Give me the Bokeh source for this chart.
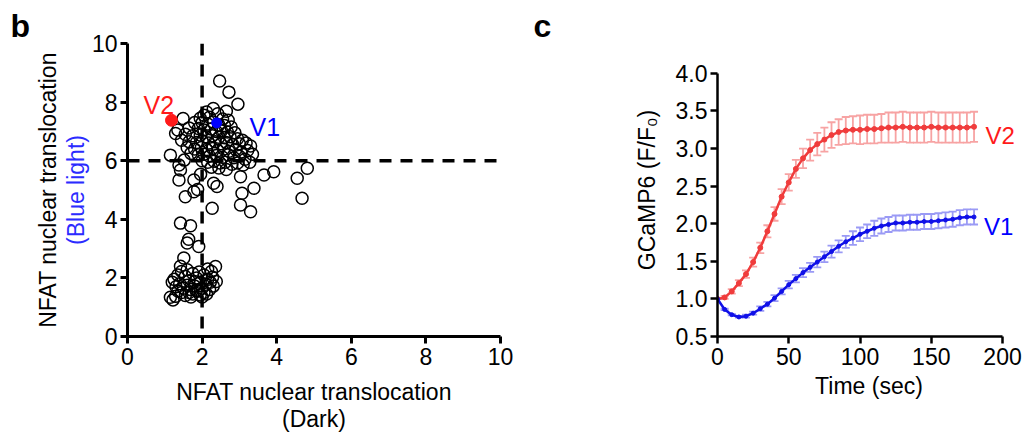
from bokeh.plotting import figure
from bokeh.layouts import row
from bokeh.models import (Range1d, FixedTicker, NumeralTickFormatter, Span, Label, Whisker, TeeHead,
                          ColumnDataSource, LinearAxis)
from bokeh.embed import file_html
from bokeh.resources import INLINE

FONT = "Liberation Sans"

# ---- Panel b: NFAT nuclear translocation (Dark vs Blue light) ----
dark_x = [
    2.47, 2.72, 2.96, 2.65, 2.30, 2.12, 2.42, 1.49, 1.95, 2.05, 2.20, 2.55, 2.70, 1.80, 2.00, 2.15, 2.30, 2.45, 2.60, 2.78,
    1.65, 1.90, 2.05, 2.25, 2.38, 2.52, 2.68, 2.88, 1.35, 1.29, 1.55, 1.75, 1.95, 2.10, 2.28, 2.45, 2.60, 2.75, 2.95, 3.08,
    1.45, 1.65, 1.85, 2.00, 2.18, 2.35, 2.50, 2.65, 2.82, 3.00, 3.18, 3.30, 1.60, 1.80, 1.98, 2.12, 2.28, 2.42, 2.58, 2.72,
    2.90, 3.05, 3.22, 3.35, 1.15, 1.70, 1.90, 2.05, 2.20, 2.38, 2.55, 2.70, 2.85, 3.00, 3.15, 1.38, 1.52, 2.00, 2.15, 2.32,
    2.48, 2.62, 2.80, 2.95, 3.10, 3.28, 2.25, 2.45, 2.65, 1.42, 1.96,
    1.38, 1.78, 1.55, 1.78, 1.88, 2.31, 2.40, 3.03, 3.66, 3.92, 3.07, 3.39, 4.55, 4.82, 4.68, 3.03, 3.30, 2.27, 1.42, 1.69,
    1.64, 1.60, 1.91, 1.51,
    2.36, 2.25, 1.15, 1.29, 1.22, 1.25, 1.35, 1.45, 1.55, 1.65, 1.75, 1.85, 1.95, 2.05, 2.15, 2.28, 2.38, 1.30, 1.40, 1.50,
    1.60, 1.70, 1.80, 1.90, 2.00, 2.10, 2.20, 1.45, 1.55, 1.65, 1.75, 1.85, 1.95, 2.05, 1.20, 1.35, 2.30, 1.60, 1.92, 2.15,
    1.42, 2.00, 1.70, 2.12, 1.80, 2.22,
]
blue_y = [
    8.72, 8.34, 7.93, 7.69, 7.78, 7.66, 7.60, 7.44, 7.45, 7.55, 7.48, 7.42, 7.38, 7.30, 7.30, 7.25, 7.32, 7.22, 7.20, 7.15,
    7.12, 7.10, 7.05, 7.08, 7.00, 7.02, 6.98, 6.95, 7.05, 6.93, 6.90, 6.85, 6.88, 6.82, 6.85, 6.80, 6.78, 6.82, 6.75, 6.70,
    6.70, 6.65, 6.62, 6.68, 6.60, 6.65, 6.58, 6.62, 6.55, 6.58, 6.60, 6.50, 6.45, 6.40, 6.45, 6.38, 6.42, 6.35, 6.40, 6.32,
    6.38, 6.30, 6.35, 6.22, 6.19, 6.25, 6.20, 6.22, 6.15, 6.18, 6.12, 6.20, 6.10, 6.15, 6.05, 5.85, 6.02, 6.00, 5.95, 5.98,
    5.92, 5.95, 5.88, 5.92, 5.85, 5.95, 5.78, 5.75, 5.70, 5.68, 5.54,
    5.34, 5.34, 4.77, 4.94, 5.02, 5.23, 5.12, 5.45, 5.51, 5.62, 4.89, 5.06, 5.40, 5.74, 4.72, 4.49, 4.26, 4.38, 3.87, 3.78,
    3.32, 3.19, 3.07, 2.68,
    2.39, 2.22, 1.34, 1.37, 1.25, 1.95, 2.10, 2.22, 2.05, 1.90, 2.15, 2.00, 1.85, 2.10, 1.95, 2.02, 1.88, 1.70, 1.80, 1.65,
    1.75, 1.60, 1.72, 1.55, 1.65, 1.78, 1.60, 1.50, 1.40, 1.50, 1.45, 1.58, 1.42, 1.50, 1.85, 1.55, 1.72, 2.28, 2.20, 2.30,
    2.40, 1.35, 1.35, 1.45, 1.88, 1.85,
]
v1_point = (2.39, 7.29)
v2_point = (1.18, 7.38)
dark_threshold = 2
blue_threshold = 6
scatter_ticks = [0, 2, 4, 6, 8, 10]

# ---- Panel c: GCaMP6 time course ----
time_s = list(range(0, 185, 5))
v2_mean = [1.00, 1.02, 1.10, 1.21, 1.33, 1.49, 1.68, 1.90, 2.13, 2.36, 2.55, 2.73, 2.87, 2.98, 3.06, 3.12, 3.18, 3.22,
           3.24, 3.25, 3.25, 3.26, 3.26, 3.27, 3.28, 3.28, 3.29, 3.28, 3.28, 3.28, 3.29, 3.28, 3.28, 3.28, 3.28, 3.28, 3.29]
v2_err = [0.00, 0.02, 0.03, 0.04, 0.05, 0.06, 0.07, 0.08, 0.09, 0.10, 0.11, 0.12, 0.13, 0.14, 0.15, 0.16, 0.17, 0.17,
          0.18, 0.18, 0.19, 0.19, 0.19, 0.19, 0.20, 0.20, 0.20, 0.20, 0.20, 0.20, 0.20, 0.20, 0.20, 0.20, 0.20, 0.20, 0.20]
v1_mean = [1.00, 0.86, 0.79, 0.76, 0.77, 0.81, 0.87, 0.93, 1.01, 1.10, 1.19, 1.27, 1.35, 1.42, 1.49, 1.56, 1.63, 1.70,
           1.76, 1.81, 1.86, 1.90, 1.94, 1.97, 1.99, 2.01, 2.01, 2.02, 2.02, 2.03, 2.03, 2.04, 2.05, 2.06, 2.08, 2.09, 2.09]
v1_err = [0.00, 0.01, 0.01, 0.01, 0.02, 0.02, 0.03, 0.03, 0.04, 0.04, 0.05, 0.05, 0.06, 0.06, 0.07, 0.07, 0.08, 0.08,
          0.08, 0.09, 0.09, 0.09, 0.10, 0.10, 0.10, 0.10, 0.10, 0.10, 0.10, 0.10, 0.10, 0.10, 0.10, 0.10, 0.10, 0.10, 0.10]
time_ticks = [0, 50, 100, 150, 200]
ratio_ticks = [0.5, 1.0, 1.5, 2.0, 2.5, 3.0, 3.5, 4.0]

RED = "#f03c3c"
RED_ERR = "#f7a3a3"
BLUE = "#1010e8"
BLUE_ERR = "#9a9af5"
TICK_FS = "23px"
LABEL_FS = "23px"


def style_axes(p, lw):
    for ax in (p.xaxis[0], p.yaxis[0]):
        ax.axis_line_width = lw
        ax.axis_line_color = "black"
        ax.major_tick_line_width = lw
        ax.major_tick_line_color = "black"
        ax.major_tick_out = 7
        ax.major_tick_in = 0
        ax.minor_tick_line_color = None
        ax.major_label_text_font = FONT
        ax.major_label_text_font_size = TICK_FS
        ax.major_label_text_color = "black"
        ax.axis_label_text_font = FONT
        ax.axis_label_text_font_size = LABEL_FS
        ax.axis_label_text_font_style = "normal"
        ax.axis_label_text_color = "black"
    p.xaxis[0].major_label_standoff = 4
    p.yaxis[0].major_label_standoff = 3
    p.xgrid.grid_line_color = None
    p.ygrid.grid_line_color = None
    p.outline_line_color = None
    p.background_fill_color = "white"
    p.border_fill_color = "white"


def label_axis(text, color="black", standoff=0):
    ax = LinearAxis(ticker=FixedTicker(ticks=[]), axis_label=text)
    ax.axis_line_color = None
    ax.major_tick_line_color = None
    ax.minor_tick_line_color = None
    ax.major_tick_out = 0
    ax.major_tick_in = 0
    ax.major_label_standoff = 0
    ax.axis_label_standoff = standoff
    ax.axis_label_text_font = FONT
    ax.axis_label_text_font_size = LABEL_FS
    ax.axis_label_text_font_style = "normal"
    ax.axis_label_text_color = color
    return ax


def panel_title(p, letter, offset, standoff):
    p.title.text = letter
    p.title.align = "left"
    p.title.offset = offset
    p.title.standoff = standoff
    p.title.text_font = FONT
    p.title.text_font_style = "bold"
    p.title.text_font_size = "32px"
    p.title.text_color = "black"


H = 434

# ---------- left figure ----------
p1 = figure(width=520, height=H, x_range=Range1d(0, 10), y_range=Range1d(0, 10),
            output_backend="svg", toolbar_location=None,
            min_border_left=127, min_border_right=20, min_border_top=43, min_border_bottom=H - 337)
style_axes(p1, 3)
p1.xaxis[0].ticker = FixedTicker(ticks=scatter_ticks)
p1.yaxis[0].ticker = FixedTicker(ticks=scatter_ticks)
p1.xaxis[0].axis_label = "NFAT nuclear translocation"
p1.xaxis[0].axis_label_standoff = 11
p1.yaxis[0].axis_label = "(Blue light)"
p1.yaxis[0].axis_label_text_color = "#2b2bff"
p1.yaxis[0].axis_label_standoff = 0
p1.add_layout(label_axis("(Dark)", standoff=-2), "below")
p1.add_layout(label_axis("NFAT nuclear translocation", standoff=-1), "left")
panel_title(p1, "b", -117, 0)

p1.add_layout(Span(location=dark_threshold, dimension="height", line_color="black",
                   line_width=3.5, line_dash="12 9"))
p1.add_layout(Span(location=blue_threshold, dimension="width", line_color="black",
                   line_width=3.5, line_dash="12 9"))

p1.scatter(dark_x, blue_y, marker="circle", size=12, fill_color=None,
           line_color="black", line_width=1.5)
p1.scatter([v2_point[0]], [v2_point[1]], marker="circle", size=12, fill_color="#ff1a1a", line_color="#ff1a1a")
p1.scatter([v1_point[0]], [v1_point[1]], marker="circle", size=10, fill_color="#0000ff", line_color="#0000ff")

p1.add_layout(Label(x=0.43, y=7.89, text="V2", text_color="#ff1a1a", text_font=FONT,
                    text_font_size="25px", text_baseline="alphabetic"))
p1.add_layout(Label(x=3.27, y=7.14, text="V1", text_color="#0000ff", text_font=FONT,
                    text_font_size="25px", text_baseline="alphabetic"))

# ---------- right figure ----------
p2 = figure(width=502, height=H, x_range=Range1d(0, 212.6), y_range=Range1d(0.5, 4.398),
            output_backend="svg", toolbar_location=None,
            min_border_left=197, min_border_right=2, min_border_top=43, min_border_bottom=H - 337)
style_axes(p2, 2.5)
p2.xaxis[0].ticker = FixedTicker(ticks=time_ticks)
p2.xaxis[0].bounds = (0, 200)
p2.yaxis[0].ticker = FixedTicker(ticks=ratio_ticks)
p2.yaxis[0].bounds = (0.5, 4.0)
p2.yaxis[0].formatter = NumeralTickFormatter(format="0.0")
p2.xaxis[0].axis_label = "Time (sec)"
p2.xaxis[0].axis_label_standoff = 5
p2.yaxis[0].axis_label = "GCaMP6 (F/F\u2080)"
p2.yaxis[0].axis_label_standoff = 13
panel_title(p2, "c", -184, 0)

src2 = ColumnDataSource(dict(t=time_s, m=v2_mean,
                             up=[m + e for m, e in zip(v2_mean, v2_err)],
                             lo=[m - e for m, e in zip(v2_mean, v2_err)]))
src1 = ColumnDataSource(dict(t=time_s, m=v1_mean,
                             up=[m + e for m, e in zip(v1_mean, v1_err)],
                             lo=[m - e for m, e in zip(v1_mean, v1_err)]))

for src, ecol in ((src2, RED_ERR), (src1, BLUE_ERR)):
    p2.add_layout(Whisker(source=src, base="t", upper="up", lower="lo", line_color=ecol, line_width=1.8,
                          upper_head=TeeHead(size=8, line_color=ecol, line_width=1.8),
                          lower_head=TeeHead(size=8, line_color=ecol, line_width=1.8)))

p2.line("t", "m", source=src2, line_color=RED, line_width=2.5)
p2.scatter("t", "m", source=src2, marker="circle", size=5, fill_color=RED, line_color=RED)
p2.line("t", "m", source=src1, line_color=BLUE, line_width=2.5)
p2.scatter("t", "m", source=src1, marker="circle", size=4, fill_color=BLUE, line_color=BLUE)

p2.add_layout(Label(x=188, y=3.18, text="V2", text_color="#ff1a1a", text_font=FONT,
                    text_font_size="24px", text_baseline="alphabetic"))
p2.add_layout(Label(x=187, y=1.96, text="V1", text_color="#0000ff", text_font=FONT,
                    text_font_size="24px", text_baseline="alphabetic"))

layout = row(p1, p2)
open("out.html", "w").write(file_html(layout, INLINE))
